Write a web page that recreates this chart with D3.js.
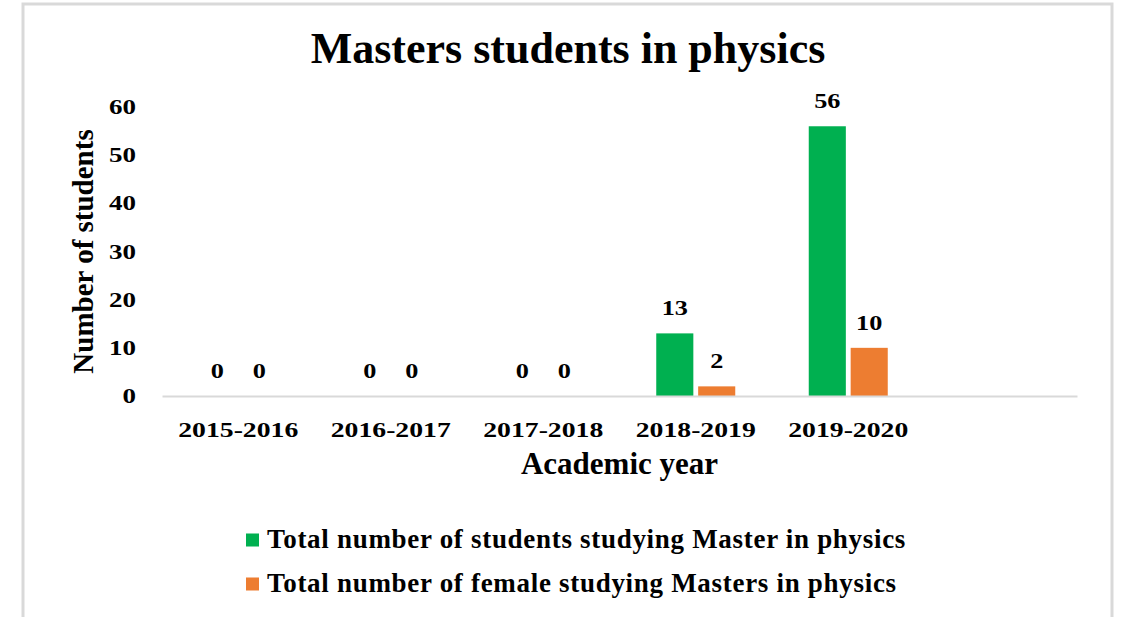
<!DOCTYPE html>
<html>
<head>
<meta charset="utf-8">
<script src="https://cdn.jsdelivr.net/npm/d3@7"></script>
<style>
  body { margin: 0; background: #fff; }
  text { font-family: "Liberation Serif", "Times New Roman", serif; font-weight: bold; fill: #000; }
</style>
</head>
<body>
<div id="chart"></div>
<script>
const years = ['2015-2016', '2016-2017', '2017-2018', '2018-2019', '2019-2020'];
const totalStudents = [0, 0, 0, 13, 56];
const femaleStudents = [0, 0, 0, 2, 10];
const seriesNames = ['Total number of students studying Master in physics',
  'Total number of female studying Masters in physics'];
const yTicks = [0, 10, 20, 30, 40, 50, 60];
const colors = ['#00b050', '#ed7d31'];

const W = 1125;
const H = 617;
const margin = { top: 107, right: 48, bottom: 221, left: 162 };
const width = W - margin.left - margin.right;
const height = H - margin.top - margin.bottom;

const svg = d3.select('#chart').append('svg')
  .attr('width', W)
  .attr('height', H);

// chart frame
svg.append('rect')
  .attr('x', 23).attr('y', 4)
  .attr('width', 1112 - 23).attr('height', H + 10)
  .attr('fill', 'none')
  .attr('stroke', '#d9d9d9')
  .attr('stroke-width', 3);

svg.append('text')
  .attr('x', 568).attr('y', 63)
  .attr('text-anchor', 'middle')
  .style('font-size', '44px')
  .text('Masters students in physics');

const g = svg.append('g')
  .attr('transform', `translate(${margin.left}, ${margin.top})`);

// an empty sixth slot keeps the axis running past the last year
const x = d3.scaleBand()
  .domain(years.concat(['']))
  .range([0, width]);
const x1 = d3.scaleBand()
  .domain([0, 1])
  .range([0, 79])
  .paddingInner(0.115);
const y = d3.scaleLinear().domain([0, 60]).range([height, 0]);

// y tick labels (no axis line); digits are drawn a bit wide like the original
g.selectAll('.ytick')
  .data(yTicks)
  .enter().append('text')
  .attr('class', 'ytick')
  .attr('transform', d => `translate(-26, ${y(d)}) scale(1.35, 1)`)
  .attr('dy', '0.35em')
  .attr('text-anchor', 'end')
  .style('font-size', '20px')
  .text(d => d);

g.append('text')
  .attr('text-anchor', 'middle')
  .attr('transform', `translate(${93 - margin.left}, ${height / 2})rotate(-90)`)
  .style('font-size', '29px')
  .text('Number of students');

const rows = years.map((yr, i) => ({ yr, vals: [totalStudents[i], femaleStudents[i]] }));

const groups = g.selectAll('.grp')
  .data(rows)
  .enter().append('g')
  .attr('class', 'grp')
  .attr('transform', d => `translate(${x(d.yr) + (x.bandwidth() - 79) / 2}, 0)`);

groups.selectAll('rect')
  .data(d => d.vals)
  .enter().append('rect')
  .attr('x', (d, i) => x1(i))
  .attr('width', x1.bandwidth())
  .attr('y', d => y(d))
  .attr('height', d => height - y(d))
  .attr('fill', (d, i) => colors[i]);

groups.selectAll('.lbl')
  .data(d => d.vals)
  .enter().append('text')
  .attr('class', 'lbl')
  .attr('transform', (d, i) => `translate(${x1(i) + x1.bandwidth() / 2}, ${y(d) - 18}) scale(1.25, 1)`)
  .attr('text-anchor', 'middle')
  .style('font-size', '21px')
  .text(d => d);

// x axis
const xAxis = g.append('g')
  .attr('transform', `translate(0, ${height})`)
  .call(d3.axisBottom(x).tickSize(0).tickPadding(25));
xAxis.select('.domain').attr('stroke', '#d9d9d9').attr('stroke-width', 2);
xAxis.selectAll('text')
  .attr('transform', 'scale(1.26, 1)')
  .style('font-size', '22px')
  .style('font-family', '"Liberation Serif", serif')
  .style('font-weight', 'bold');

g.append('text')
  .attr('x', width / 2)
  .attr('y', 474 - margin.top)
  .attr('text-anchor', 'middle')
  .style('font-size', '31px')
  .text('Academic year');

// legend
const legend = svg.selectAll('.legend')
  .data(seriesNames)
  .enter().append('g')
  .attr('class', 'legend')
  .attr('transform', (d, i) => `translate(246, ${540 + i * 44})`);

legend.append('rect')
  .attr('x', 0).attr('y', -6.5)
  .attr('width', 13).attr('height', 13)
  .attr('fill', (d, i) => colors[i]);

legend.append('text')
  .attr('x', 21)
  .attr('y', 8)
  .style('font-size', '27px')
  .style('letter-spacing', '0.7px')
  .text(d => d);
</script>
</body>
</html>
